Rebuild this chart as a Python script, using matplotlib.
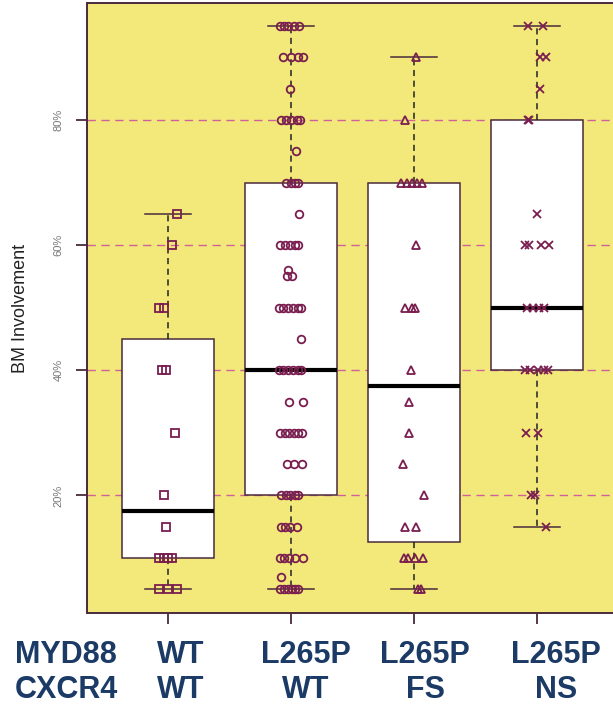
import numpy as np
import matplotlib.pyplot as plt

plt.rcParams['font.family'] = ['Liberation Sans', 'DejaVu Sans']

# BM involvement (%) per patient, by MYD88 / CXCR4 genotype
wt_wt = [65, 60, 50, 50, 40, 40, 30, 20, 15, 10, 10, 10, 10, 5, 5, 5]
l265p_wt = [95, 95, 95, 95, 95, 90, 90, 90, 90, 85, 80, 80, 80, 80, 80, 75,
            70, 70, 70, 70, 65, 60, 60, 60, 60, 60, 56, 55, 55,
            50, 50, 50, 50, 50, 50, 45, 40, 40, 40, 40, 40, 40, 35, 35,
            30, 30, 30, 30, 30, 30, 25, 25, 25, 20, 20, 20, 20, 20,
            15, 15, 15, 15, 10, 10, 10, 10, 10, 7, 5, 5, 5, 5, 5, 5]
l265p_fs = [90, 80, 70, 70, 70, 70, 70, 60, 50, 50, 50, 40, 35, 30, 25, 20,
            15, 15, 10, 10, 10, 10, 5, 5]
l265p_ns = [95, 95, 90, 90, 85, 80, 80, 65, 60, 60, 60, 60, 50, 50, 50, 50,
            40, 40, 40, 40, 40, 30, 30, 20, 20, 15]

# horizontal spread of the points around each group centre
jit_wt_wt = [0.073, 0.033, -0.073, -0.033, -0.05, -0.02, 0.057, -0.033, -0.016,
             -0.073, -0.033, 0.0, 0.033, -0.073, 0.0, 0.073]
jit_l265p_wt = [-0.089, -0.057, -0.024, 0.024, 0.065, -0.065, 0.0, 0.057, 0.098,
                -0.008, -0.078, -0.041, 0.0, 0.046, 0.073, 0.041,
                -0.038, -0.002, 0.033, 0.059, 0.065, -0.089, -0.049, -0.008, 0.033, 0.057,
                -0.022, -0.035, 0.006,
                -0.098, -0.065, -0.024, 0.016, 0.057, 0.081, 0.081,
                -0.098, -0.065, -0.024, 0.016, 0.057, 0.081, -0.014, 0.095,
                -0.089, -0.049, -0.016, 0.024, 0.057, 0.089, -0.035, 0.024, 0.087,
                -0.081, -0.041, -0.008, 0.033, 0.057,
                -0.081, -0.049, -0.008, 0.049, -0.089, -0.054, -0.014, 0.033, 0.095,
                -0.081, -0.089, -0.057, -0.024, 0.008, 0.033, 0.057]
jit_l265p_fs = [0.02, -0.073, -0.108, -0.06, -0.019, 0.022, 0.068, 0.016,
                -0.073, -0.019, 0.008, -0.024, -0.04, -0.038, -0.087, 0.081,
                -0.073, 0.016, -0.081, -0.046, 0.008, 0.076, 0.057, 0.03]
jit_l265p_ns = [-0.073, 0.049, 0.022, 0.076, 0.022, -0.073, -0.065, 0.0,
                -0.1, -0.065, 0.035, 0.097, -0.081, -0.032, 0.016, 0.062,
                -0.1, -0.06, 0.008, 0.062, 0.089, -0.092, 0.008, -0.051, -0.019, 0.076]

groups = [wt_wt, l265p_wt, l265p_fs, l265p_ns]
jitters = [jit_wt_wt, jit_l265p_wt, jit_l265p_fs, jit_l265p_ns]
markers = ['s', 'o', '^', 'x']
myd88 = ['WT', 'L265P', 'L265P', 'L265P']
cxcr4 = ['WT', 'WT', 'FS', 'NS']
yticks = [20, 40, 60, 80]

dark = '#4a2a3c'
pt_col = '#7a1e50'
navy = '#1b3a66'


def fivenum(v):
    # Tukey hinges, as R's boxplot uses them
    v = np.sort(np.asarray(v, dtype=float))
    n = len(v)
    n4 = np.floor((n + 3) / 2) / 2
    d = np.array([1, n4, (n + 1) / 2, n + 1 - n4, n]) - 1
    return 0.5 * (v[np.floor(d).astype(int)] + v[np.ceil(d).astype(int)])


stats = []
for g in groups:
    lo, q1, med, q3, hi = fivenum(g)
    iqr = q3 - q1
    arr = np.asarray(g, dtype=float)
    stats.append(dict(med=med, q1=q1, q3=q3,
                      whislo=arr[arr >= q1 - 1.5 * iqr].min(),
                      whishi=arr[arr <= q3 + 1.5 * iqr].max(),
                      fliers=[]))

fig = plt.figure(figsize=(6.13, 7.06), dpi=100)
ax = fig.add_axes([87 / 613, 93 / 706, 531 / 613, 610 / 706])
ax.set_facecolor('#f2e97a')

for yv in yticks:
    ax.axhline(yv, color='#d0609a', lw=1.0, ls=(0, (6, 4)), zorder=1)

pos = np.arange(1, len(groups) + 1)
ax.bxp(stats, positions=pos, widths=0.75, capwidths=0.37, patch_artist=True,
       showfliers=False,
       boxprops=dict(facecolor='white', edgecolor=dark, lw=1.1),
       whiskerprops=dict(color='#222222', lw=1.1, ls=(0, (4, 3))),
       capprops=dict(color=dark, lw=1.1),
       medianprops=dict(color='black', lw=3),
       zorder=2)

for p, g, j, m in zip(pos, groups, jitters, markers):
    x = p + np.asarray(j)
    if m == 'x':
        ax.plot(x, g, ls='none', marker=m, ms=5.5, mew=1.3, color=pt_col, zorder=3)
    else:
        ax.plot(x, g, ls='none', marker=m, ms=5.5, mew=1.3, mfc='none',
                mec=pt_col, zorder=3)

ax.set_xlim(0.34, 4.66)
ax.set_ylim(1.2, 98.7)
ax.set_xticks(pos)
ax.set_xticklabels([])
ax.set_yticks(yticks)
ax.set_yticklabels([f'{v}%' for v in yticks], rotation=90, va='center',
                   fontsize=8, color='#777777')
ax.tick_params(axis='both', length=8, width=1.3, color=dark)
ax.tick_params(axis='y', pad=9)
for s in ax.spines.values():
    s.set_color(dark)
    s.set_linewidth(1.4)

ax.set_ylabel('BM Involvement', fontsize=13, color='#222222')
ax.yaxis.set_label_coords(-0.11, 0.5)

# genotype rows under the plot
cols = [181, 306, 425, 556]
row1, row2 = 43 / 706, 8 / 706
fig.text(15 / 613, row1, 'MYD88', fontsize=22, fontweight='bold', color=navy,
         ha='left', va='baseline')
fig.text(15 / 613, row2, 'CXCR4', fontsize=22, fontweight='bold', color=navy,
         ha='left', va='baseline')
for c, a, b in zip(cols, myd88, cxcr4):
    fig.text(c / 613, row1, a, fontsize=22, fontweight='bold', color=navy,
             ha='center', va='baseline')
    fig.text(c / 613, row2, b, fontsize=22, fontweight='bold', color=navy,
             ha='center', va='baseline')

fig.savefig('out.png', dpi=100)
